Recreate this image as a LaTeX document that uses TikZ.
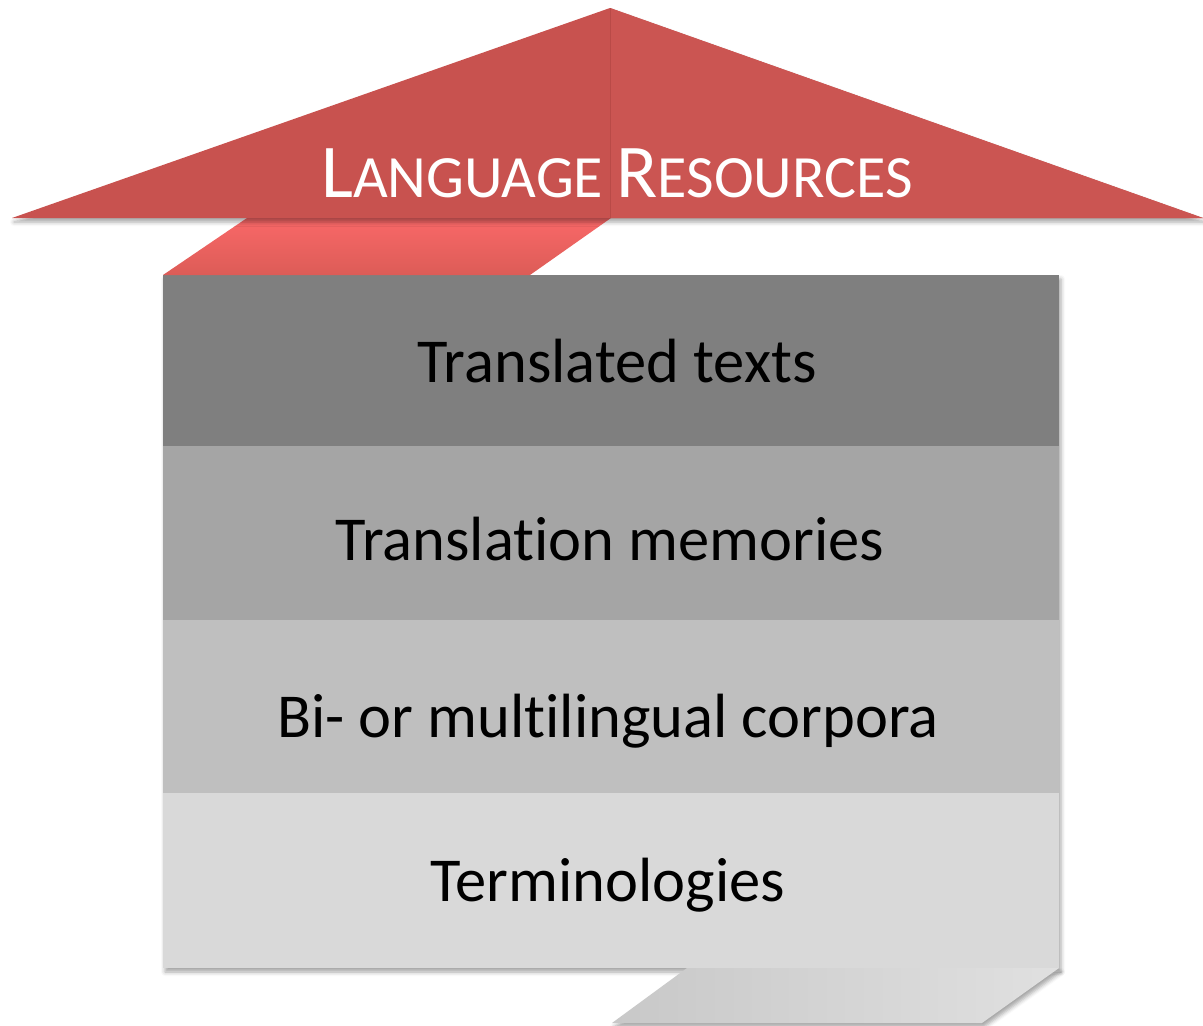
\documentclass[tikz,border=0pt]{standalone}
\usepackage{fontspec}
\setmainfont{Carlito}[RawFeature=-liga]
\usetikzlibrary{shadows.blur}
\definecolor{roofL}{HTML}{C8524F}
\definecolor{roofR}{HTML}{CB5552}
\definecolor{roofLine}{HTML}{B94A47}
\definecolor{linkTop}{HTML}{F96868}
\definecolor{linkBot}{HTML}{DC5C57}
\definecolor{bandA}{HTML}{7F7F7F}
\definecolor{bandB}{HTML}{A5A5A5}
\definecolor{bandC}{HTML}{BFBFBF}
\definecolor{bandD}{HTML}{D9D9D9}
\definecolor{footL}{HTML}{C8C8C8}
\definecolor{footR}{HTML}{E0E0E0}
\tikzset{
  shadowed/.style={blur shadow={shadow xshift=2pt,shadow yshift=-4pt,shadow blur radius=4pt,shadow opacity=35}},
  bandtext/.style={anchor=base,inner sep=0pt,text=black,font=\fontsize{62.5}{66}\selectfont},
}
\begin{document}
\begin{tikzpicture}[x=1pt,y=-1pt]
\useasboundingbox (0,0) rectangle (1203,1026);
% coordinates
\coordinate (apex) at (610,8);
\coordinate (rl) at (12,218);
\coordinate (rr) at (1203,218);
\coordinate (rm) at (610,218);
% main box shadow
\path[shadowed,fill=bandD] (163,275) rectangle (1059,968);
% bottom foot
\path[shadowed,left color=footL,right color=footR] (687,968) -- (1059,968) -- (982,1023) -- (612,1023) -- cycle;
% bands
\path[fill=bandA] (163,275) rectangle (1059,446);
\path[fill=bandB] (163,446) rectangle (1059,620);
\path[fill=bandC] (163,620) rectangle (1059,793);
\path[fill=bandD] (163,793) rectangle (1059,968);
% link parallelogram
\path[top color=linkTop,bottom color=linkBot] (247,218) -- (611,218) -- (530,275) -- (163,275) -- cycle;
% roof
\path[shadowed,fill=roofL] (rl) -- (apex) -- (rr) -- cycle;
\path[fill=roofR] (apex) -- (rr) -- (rm) -- cycle;
\draw[roofLine,line width=1pt] (apex) -- (rm);
% texts
\node[anchor=base,inner sep=0pt,text=white] (title) at (617,197)
  {\fontsize{76}{80}\selectfont L\fontsize{60}{64}\selectfont ANGUAGE \fontsize{76}{80}\selectfont R\fontsize{60}{64}\selectfont ESOURCES};
\node[bandtext] (t1) at (617,382) {Translated texts};
\node[bandtext] (t2) at (610,560) {Translation memories};
\node[bandtext] (t3) at (608,737) {Bi- or multilingual corpora};
\node[bandtext] (t4) at (608,901) {Terminologies};
\end{tikzpicture}
\end{document}
